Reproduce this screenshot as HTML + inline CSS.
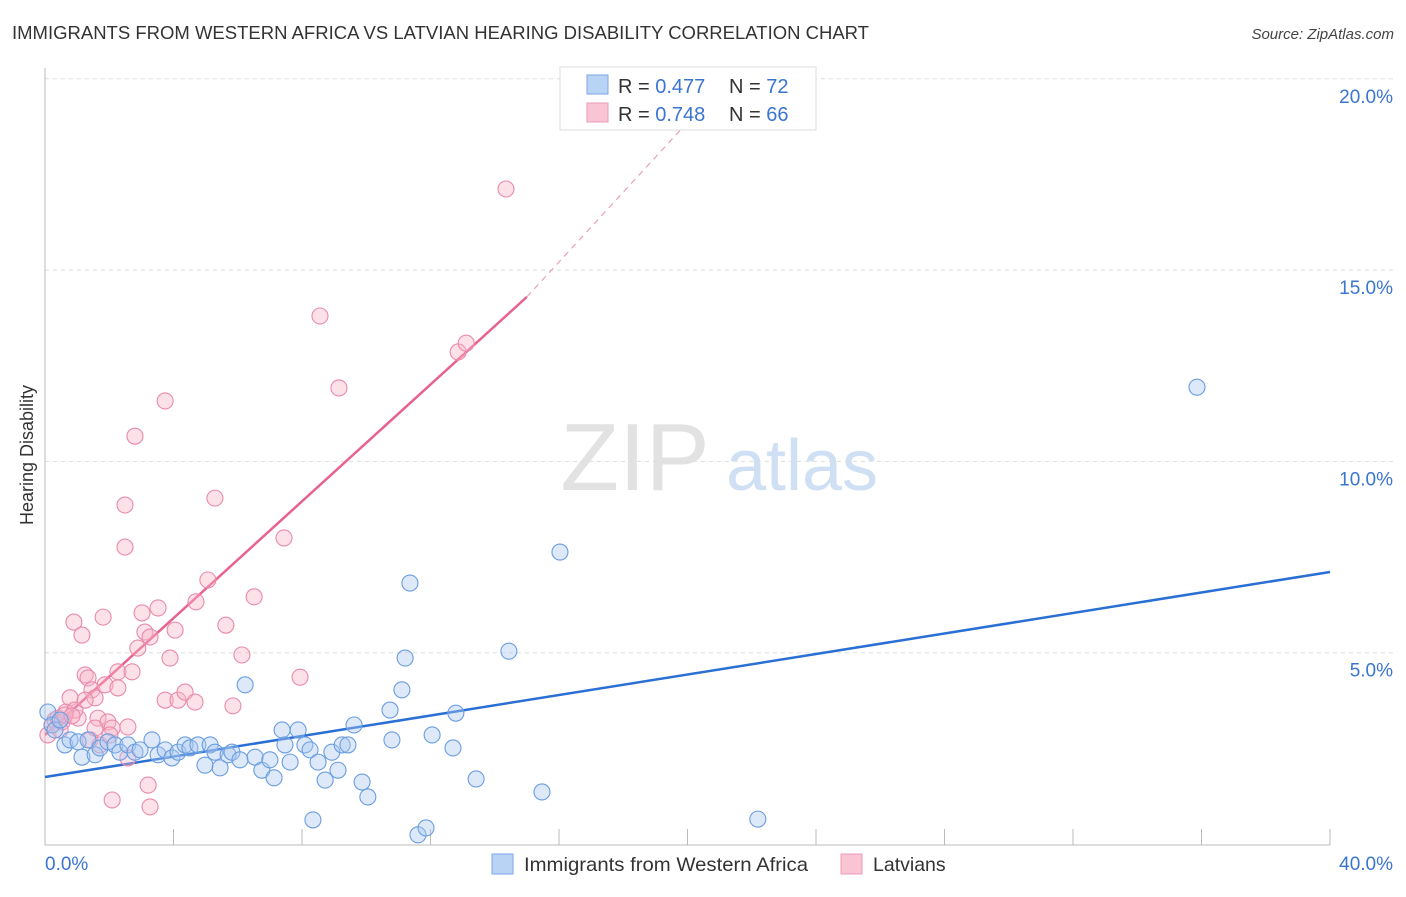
<!DOCTYPE html>
<html><head><meta charset="utf-8"><style>
body{margin:0;background:#fff;font-family:"Liberation Sans",sans-serif;}
svg text{font-family:"Liberation Sans",sans-serif;}
</style></head><body>
<svg id="chart" width="1406" height="892" xmlns="http://www.w3.org/2000/svg">
<text x="12" y="39" font-size="18" fill="#333" textLength="857" lengthAdjust="spacingAndGlyphs">IMMIGRANTS FROM WESTERN AFRICA VS LATVIAN HEARING DISABILITY CORRELATION CHART</text>
<text x="1394" y="39" font-size="15" fill="#444" font-style="italic" text-anchor="end">Source: ZipAtlas.com</text>
<text transform="translate(33,455) rotate(-90)" font-size="18" fill="#333" text-anchor="middle">Hearing Disability</text>
<g>
<text x="635" y="490" font-size="96" fill="#e2e2e2" font-family="Liberation Serif" text-anchor="middle">ZIP</text>
<text x="802" y="490" font-size="72" fill="#cfdff4" text-anchor="middle">atlas</text>
</g>
<g id="grid"></g><g id="axes"></g><g id="lines"></g><g id="pts"></g>
<g>
<rect x="560" y="67" width="256" height="63" fill="#fff" stroke="#ddd"/>
<rect x="587" y="75" width="21" height="19" fill="#b9d3f5" stroke="#7aa6e6"/>
<rect x="587" y="103" width="21" height="19" fill="#f9c5d4" stroke="#eb9ab5"/>
<text x="618" y="93" font-size="20" fill="#333">R = <tspan fill="#3a75d2">0.477</tspan></text>
<text x="729" y="93" font-size="20" fill="#333">N = <tspan fill="#3a75d2">72</tspan></text>
<text x="618" y="121" font-size="20" fill="#333">R = <tspan fill="#3a75d2">0.748</tspan></text>
<text x="729" y="121" font-size="20" fill="#333">N = <tspan fill="#3a75d2">66</tspan></text>
</g>
<g>
<rect x="492" y="854" width="21" height="20" fill="#b9d3f5" stroke="#7aa6e6"/>
<text x="524" y="871" font-size="19.5" fill="#333" textLength="284" lengthAdjust="spacingAndGlyphs">Immigrants from Western Africa</text>
<rect x="841" y="854" width="21" height="20" fill="#f9c5d4" stroke="#eb9ab5"/>
<text x="873" y="871" font-size="19.5" fill="#333">Latvians</text>
</g>
</svg>
<script>
const blueX=[0.09,0.22,0.31,0.47,0.62,0.78,1.03,1.15,1.34,1.56,1.71,1.96,2.18,2.33,2.58,2.80,2.96,3.33,3.52,3.74,3.95,4.14,4.36,4.51,4.76,4.98,5.14,5.29,5.45,5.70,5.82,6.07,6.23,6.54,6.75,7.00,7.13,7.38,7.47,7.63,7.88,8.09,8.25,8.50,8.34,8.72,8.93,9.12,9.25,9.43,9.62,9.87,10.05,10.74,10.80,11.11,11.21,11.36,11.61,11.86,12.05,12.70,12.79,13.42,14.44,15.47,16.03,22.19,35.86];
const blueY=[3.45,3.11,2.98,3.24,2.59,2.72,2.67,2.27,2.72,2.33,2.51,2.67,2.59,2.40,2.59,2.40,2.46,2.72,2.33,2.46,2.25,2.40,2.59,2.51,2.59,2.06,2.59,2.40,1.99,2.33,2.40,2.20,4.16,2.27,1.93,2.20,1.73,2.98,2.59,2.14,2.98,2.59,2.46,2.14,0.63,1.67,2.40,1.93,2.59,2.59,3.11,1.62,1.23,3.50,2.72,4.03,4.86,6.82,0.24,0.42,2.85,2.51,3.42,1.70,5.04,1.36,7.63,0.65,11.94];
const pinkX=[0.09,0.22,0.31,0.40,0.53,0.65,0.78,0.90,1.03,1.15,1.25,1.34,1.40,1.46,1.56,1.65,1.81,1.87,1.96,2.09,2.27,2.27,2.49,2.58,2.71,2.80,2.89,3.02,3.11,3.21,3.27,3.27,3.52,3.74,3.74,3.89,4.05,4.14,4.36,4.67,4.70,5.29,5.07,5.63,5.85,6.13,6.51,7.44,7.94,8.56,9.15,12.86,13.11,14.35,2.49,2.09,2.58,1.56,0.93,0.47,0.62,1.25,1.71,2.02,0.84];
const pinkY=[2.85,3.11,3.24,3.29,3.19,3.45,3.82,5.80,3.29,5.46,4.42,4.34,2.72,4.03,3.82,3.29,5.93,4.16,3.19,3.03,4.50,4.08,7.76,2.25,4.50,10.66,5.12,6.04,5.54,1.54,5.41,0.97,6.17,11.58,3.76,4.86,5.59,3.76,3.97,3.71,6.33,9.04,6.90,5.72,3.61,4.94,6.46,8.00,4.36,13.80,11.92,12.86,13.09,17.12,8.86,1.15,3.06,3.03,3.50,2.98,3.37,3.76,2.59,2.85,3.35];
const yTicks=[5,10,15,20];
const yTickLabels=["5.0%","10.0%","15.0%","20.0%"];
const xTicks=[0,4,8,12,16,20,24,28,32,36,40];
const blueLine=[[0,1.75],[40,7.11]];
const pinkLine=[[0,2.85],[15,14.3]];
const pinkDash=[[15,14.3],[20.7,19.5]];
const NS="http://www.w3.org/2000/svg";
const X=v=>45+v*32.125, Y=v=>844-v*38.26;
function mk(tag,parent,attrs){const e=document.createElementNS(NS,tag);for(const k in attrs)e.setAttribute(k,attrs[k]);document.getElementById(parent).appendChild(e);return e;}
yTicks.forEach((t,i)=>{
  const g=mk('line','grid',{x1:45,x2:1394,y1:Y(t),y2:Y(t),stroke:'#ddd','stroke-dasharray':'4,4'});
  
  
  const l=mk('text','axes',{x:1393,y:Y(t)+24,'font-size':19,fill:'#3a75d2','text-anchor':'end'});
  l.textContent=yTickLabels[i];
  
  
});
const ax=mk('line','axes',{x1:45,x2:1330,y1:845,y2:845,stroke:'#bbb'});


const ay=mk('line','axes',{x1:45,x2:45,y1:68,y2:845,stroke:'#bbb'});


xTicks.forEach(t=>{
  const tk=mk('line','axes',{x1:X(t),x2:X(t),y1:829,y2:845,stroke:'#bbb'});
  
  
});
const x0=mk('text','axes',{x:45,y:870,'font-size':19,fill:'#3a75d2'});x0.textContent="0.0%";


const x1=mk('text','axes',{x:1393,y:870,'font-size':19,fill:'#3a75d2','text-anchor':'end'});x1.textContent="40.0%";


function pts(xs,ys,fill,stroke,name){xs.forEach((v,i)=>{
  const c=mk('circle','pts',{cx:X(v),cy:Y(ys[i]),r:8,fill:fill,'fill-opacity':0.4,stroke:stroke,'stroke-width':1.1});
  
  
});}
pts(pinkX,pinkY,'#f7b3c7','#e98aab','latvians-point');
pts(blueX,blueY,'#a9c8f0','#6a9de0','western-africa-point');
const bl=mk('line','lines',{x1:X(blueLine[0][0]),y1:Y(blueLine[0][1]),x2:X(blueLine[1][0]),y2:Y(blueLine[1][1]),stroke:'#2a6fd4','stroke-width':2.5});


const pl=mk('line','lines',{x1:X(pinkLine[0][0]),y1:Y(pinkLine[0][1]),x2:X(pinkLine[1][0]),y2:Y(pinkLine[1][1]),stroke:'#e8628e','stroke-width':2.5});


const pd=mk('line','lines',{x1:X(pinkDash[0][0]),y1:Y(pinkDash[0][1]),x2:X(pinkDash[1][0]),y2:Y(pinkDash[1][1]),stroke:'#e8a0b8','stroke-width':1.2,'stroke-dasharray':'6,5'});


</script>
</body></html>
